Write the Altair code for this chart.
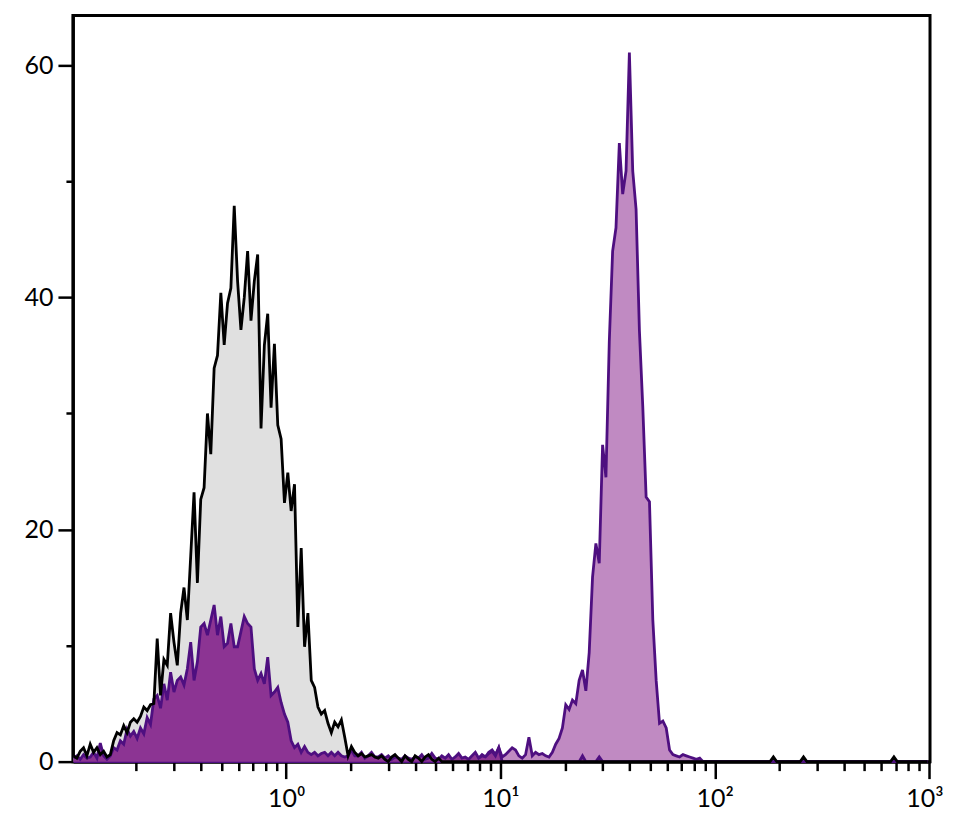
import altair as alt
import numpy as np
import pandas as pd

# Histogram layout: 256 channels, 64 per decade, starting at 10^-1
LOG_MIN = -1.0
BINS_PER_DECADE = 64
N_BINS = 256

# Control (gray fill, black outline): channels 0..110
control_counts = [
    0.5, 0.3, 0.9, 1.2, 0.5, 1.5, 0.8, 1.2, 0.6, 0.9,
    0.4, 0.6, 1.8, 2.5, 2.3, 3.1, 2.5, 3.4, 3.7, 3.4,
    3.9, 4.7, 4.4, 4.9, 5.0, 10.6, 5.7, 8.8, 8.3, 12.8,
    10.3, 8.3, 12.8, 15.0, 12.2, 17.7, 23.2, 15.4, 22.6, 23.6,
    30.0, 26.5, 33.9, 35.0, 40.4, 35.9, 39.5, 40.8, 47.9, 41.4,
    37.2, 40.0, 44.0, 38.0, 41.4, 43.7, 28.7, 35.9, 38.6, 30.5,
    36.0, 29.0, 27.8, 22.3, 24.9, 21.6, 23.9, 11.6, 18.4, 9.9,
    12.8, 7.0, 6.4, 4.7, 4.1, 4.4, 3.3, 2.5, 3.4, 3.0,
    3.6, 2.1, 0.5, 1.3, 0.8, 0.5, 0.7, 0.4, 0.5, 0.6,
    0.4, 0.3, 0.5, 0.2, 0.0, 0.4, 0.6, 0.3, 0.0, 0.5,
    0.2, 0.0, 0.5, 0.3, 0.0, 0.4, 0.6, 0.2, 0.0, 0.3, 0.0,
]
control_event_bins = [209, 218, 245]
control_event_counts = [0.4, 0.4, 0.4]

# Dim population (dark purple): channels 0..127
dim_counts = [
    0.3, 0.5, 0.2, 0.6, 0.3, 0.4, 0.8, 0.3, 1.6, 0.5,
    0.2, 0.5, 1.2, 1.0, 1.8, 1.5, 2.8, 2.2, 2.6, 2.0,
    2.9, 2.4, 3.8, 3.2, 5.4, 5.7, 4.6, 6.7, 5.3, 7.7,
    6.0, 7.0, 7.3, 6.6, 8.0, 10.3, 7.0, 8.6, 11.6, 11.9,
    10.9, 12.2, 13.5, 10.9, 12.5, 9.9, 10.2, 11.9, 9.9, 9.9,
    11.2, 12.5, 11.9, 11.6, 8.0, 7.0, 7.6, 6.7, 9.0, 5.7,
    6.0, 6.4, 5.1, 4.1, 3.4, 1.8, 1.2, 1.5, 0.8, 1.3,
    0.8, 0.6, 0.8, 0.5, 0.7, 0.8, 0.5, 0.8, 0.5, 0.8,
    0.5, 0.4, 0.5, 1.0, 0.5, 0.5, 0.8, 0.3, 0.5, 0.8,
    0.4, 0.4, 0.6, 0.3, 0.5, 0.2, 0.4, 0.3, 0.2, 0.5,
    0.3, 0.2, 0.4, 0.3, 0.6, 0.2, 0.3, 0.7, 0.3, 0.2,
    0.5, 0.3, 0.6, 0.2, 0.4, 0.7, 0.3, 0.4, 0.2, 0.5,
    0.8, 0.3, 0.5, 0.4, 0.7, 0.9, 0.5, 1.2,
]
dim_event_bins = [152, 157]
dim_event_counts = [0.5, 0.4]

# Bright population (light purple): channels 118..188
bright_start = 118
bright_counts = [
    0.0, 0.3, 0.5, 0.3, 0.6, 0.4, 0.8, 1.0, 0.6, 1.2,
    0.4, 0.6, 0.9, 1.2, 1.0, 0.5, 0.3, 0.6, 2.1, 0.5,
    0.8, 0.6, 0.7, 0.5, 0.4, 0.8, 1.5, 2.0, 2.9, 4.9,
    4.5, 5.3, 5.0, 7.0, 7.9, 6.1, 9.4, 15.9, 18.8, 17.1,
    27.3, 24.5, 36.2, 44.0, 46.0, 53.3, 48.9, 50.9, 61.1, 50.9,
    47.6, 37.1, 30.6, 22.8, 22.4, 12.2, 7.0, 3.3, 3.5, 2.9,
    1.0, 0.6, 0.5, 0.4, 0.6, 0.5, 0.4, 0.3, 0.2, 0.3, 0.0,
]

X_TICKS = [0.2, 0.3, 0.4, 0.5, 0.6, 0.7, 0.8, 0.9,
           1, 2, 3, 4, 5, 6, 7, 8, 9,
           10, 20, 30, 40, 50, 60, 70, 80, 90,
           100, 200, 300, 400, 500, 600, 700, 800, 900, 1000]
Y_TICKS = [0, 10, 20, 30, 40, 50, 60]

X_DOMAIN = [0.1012, 1010]
Y_DOMAIN = [0, 64.3]

GRAY_FILL = "#e0e0e0"
DARK_FILL = "#8c3493"
LIGHT_FILL = "#c08ac2"
PURPLE_LINE = "#4e0f80"
LINE_W = 2.8


def full_series(segment, start=0, ev_bins=(), ev_counts=()):
    arr = np.zeros(N_BINS)
    arr[start:start + len(segment)] = segment
    for b, c in zip(ev_bins, ev_counts):
        arr[b] = c
    return arr


centers = 10 ** (LOG_MIN + (np.arange(N_BINS) + 0.5) / BINS_PER_DECADE)

df_control = pd.DataFrame({"x": centers, "count": full_series(control_counts, 0, control_event_bins, control_event_counts)})
df_dim = pd.DataFrame({"x": centers, "count": full_series(dim_counts, 0, dim_event_bins, dim_event_counts)})
df_bright = pd.DataFrame({"x": centers, "count": full_series(bright_counts, bright_start)})

FONT = "Lato"

x_enc = alt.X(
    "x:Q",
    scale=alt.Scale(type="log", domain=X_DOMAIN, nice=False, zero=False),
    axis=alt.Axis(
        values=X_TICKS,
        title=None,
        grid=False,
        domainColor="black",
        domainWidth=3,
        tickColor="black",
        tickWidth=2.5,
        tickSize={"condition": {"test": "abs(log(datum.value)/LN10 - round(log(datum.value)/LN10)) < 1e-6", "value": 17}, "value": 9},
        labelExpr="datum.value == 1 ? '10⁰' : datum.value == 10 ? '10¹' : datum.value == 100 ? '10²' : datum.value == 1000 ? '10³' : ''",
        labelFont=FONT,
        labelFontSize=25,
        labelColor="black",
        labelPadding=8,
        labelOverlap=False,
        labelFlush=5,
        labelFlushOffset=14,
    ),
)

y_enc = alt.Y(
    "count:Q",
    scale=alt.Scale(domain=Y_DOMAIN, nice=False),
    axis=alt.Axis(
        values=Y_TICKS,
        title=None,
        grid=False,
        domainColor="black",
        domainWidth=3,
        tickColor="black",
        tickWidth=2.5,
        tickSize={"condition": {"test": "datum.value % 20 == 0", "value": 15}, "value": 7},
        labelExpr="datum.value % 20 == 0 ? datum.label : ''",
        labelFont=FONT,
        labelFontSize=25,
        labelColor="black",
        labelPadding=5,
        labelOverlap=False,
        labelFlush=False,
    ),
)

control_area = alt.Chart(df_control).mark_area(
    color=GRAY_FILL, opacity=1, interpolate="linear"
).encode(x=x_enc, y=y_enc)

bright_area = alt.Chart(df_bright).mark_area(
    color=LIGHT_FILL, opacity=1, interpolate="linear",
    line={"color": PURPLE_LINE, "strokeWidth": LINE_W},
).encode(x=x_enc, y=y_enc)

dim_area = alt.Chart(df_dim).mark_area(
    color=DARK_FILL, opacity=1, interpolate="linear",
    line={"color": PURPLE_LINE, "strokeWidth": LINE_W},
).encode(x=x_enc, y=y_enc)

control_line = alt.Chart(df_control).mark_line(
    color="black", strokeWidth=LINE_W, interpolate="linear"
).encode(x=x_enc, y=y_enc)

chart = alt.layer(control_area, bright_area, dim_area, control_line).properties(
    width=858,
    height=747,
    autosize=alt.AutoSizeParams(type="none"),
    padding={"left": 65, "top": 7, "right": 16, "bottom": 60},
).configure_view(stroke="black", strokeWidth=3)

chart.save("out.html", embed_options={"renderer": "svg", "actions": False})
